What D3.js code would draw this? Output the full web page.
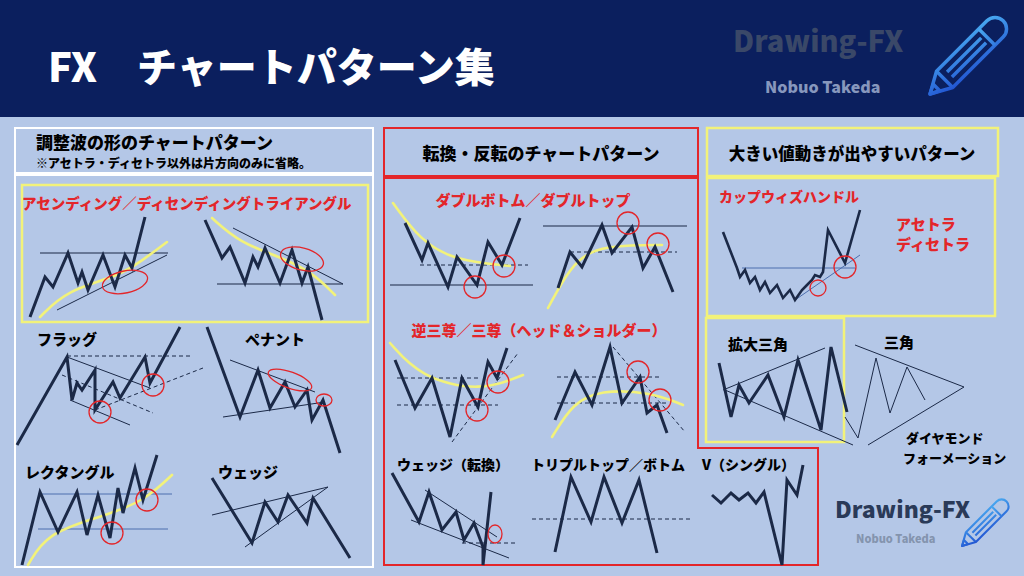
<!DOCTYPE html>
<html><head><meta charset="utf-8">
<script src="https://cdn.jsdelivr.net/npm/d3@7"></script>
<style>body{margin:0;background:#b4c7e7}svg{display:block}text{font-family:"Noto Sans CJK JP","Noto Sans",sans-serif;font-weight:900}</style>
</head><body><svg id="c"></svg>
<script>
var W = 1024, H = 576;

// pattern data, local coords of each panel (x right, y down)
// left panel
var ascZig = [[20,197],[35,157],[43,167],[58,133],[68,163],[72,152],[78,170],[93,135],[105,167],[115,135],[122,148],[135,97]];
var ascRes = [[30,133],[158,133]];
var ascSup = [[47,190],[157,135]];
var ascYel = [[30,197],[57,170],[107,157],[133,140],[157,122]];
var descZig = [[195,100],[212,138],[220,127],[235,163],[243,137],[248,147],[255,128],[270,163],[282,130],[292,163],[298,147],[312,200]];
var descSup = [[207,164],[333,164]];
var descRes = [[223,108],[333,164]];
var descYel = [[202,98],[230,123],[273,138],[303,153],[325,175]];
var flagZig = [[7,325],[57,237],[62,280],[67,263],[72,270],[85,250],[85,290],[103,262],[110,278],[135,237],[140,263],[170,207]];
var flagUp = [[57,237],[140,268]];
var flagLow = [[60,280],[120,305]];
var flagDash = [[[57,236],[183,236]],[[52,255],[143,293]],[[85,290],[193,248]]];
var pennZig = [[197,207],[230,297],[248,250],[260,288],[275,262],[285,287],[297,270],[302,300],[313,280],[330,333]];
var pennUp = [[220,240],[305,272]];
var pennLow = [[213,297],[315,282]];
var rectZig = [[12,445],[30,372],[48,412],[67,372],[77,415],[88,375],[100,418],[108,368],[113,393],[125,348],[133,380],[147,335]];
var rectLines = [[[30,374],[162,374]],[[28,409],[158,409]]];
var rectYel = [[18,445],[37,413],[90,397],[133,382],[162,355]];
var wedgeZig = [[202,358],[242,423],[255,382],[268,402],[278,375],[297,403],[303,378],[340,438]];
var wedgeLines = [[[202,395],[318,367]],[[235,427],[318,367]]];
var leftCircles = [[90,292,11],[143,265,11],[102,413,11],[137,380,11]];
var leftEllipses = [[115,162,23,11,-12],[292,139,22,11,15],[280,260,23,8,20],[314,280,8,6,0]];

// middle panel
var dbZig = [[25,103],[42,140],[48,123],[68,167],[77,137],[97,165],[108,122],[122,145],[140,98]];
var dbSup = [[10,165],[153,165]];
var dbYel = [[13,83],[40,120],[73,140],[130,146]];
var dtZig = [[178,168],[190,132],[202,147],[222,105],[232,133],[252,107],[263,148],[275,127],[293,172]];
var dtRes = [[163,106],[307,106]];
var dtYel = [[168,188],[190,147],[213,128],[253,125],[282,125]];
var ihsZig = [[15,240],[35,288],[52,258],[70,317],[82,258],[98,287],[108,242],[117,258],[127,228]];
var ihsYel = [[10,223],[40,257],[100,272],[143,255]];
var hsZig = [[175,300],[195,252],[212,285],[230,227],[242,283],[260,257],[267,293],[277,285],[287,313]];
var hsYel = [[172,317],[193,283],[220,270],[270,272],[303,285]];
var wrZig = [[12,353],[39,402],[49,372],[62,410],[76,392],[84,420],[94,403],[103,427],[103,445],[111,372]];
var wrLines = [[[45,370],[117,417]],[[31,400],[129,438]]];
var tripleZig = [[175,432],[191,357],[211,402],[224,357],[242,403],[259,360],[277,433]];
var vZig = [[332,375],[341,383],[351,373],[359,380],[368,373],[376,383],[384,372],[402,445],[407,360],[417,375],[423,345]];
var midDash = [[[40,145],[148,145]],[[190,132],[297,132]],[[17,258],[100,258]],[[17,285],[118,285]],[[72,322],[138,233]],
  [[177,257],[280,257]],[[177,283],[287,283]],[[233,227],[305,312]],[[82,423],[136,423]],[[152,399],[310,399]]];
var midCircles = [[95,167,11],[124,146,11],[248,103,11],[278,124,11],[97,290,11],[118,262,11],[258,252,11],[280,280,11]];
var midEllipses = [[115,414,7,9,0]];

// right panel
var cupZig = [[23,112],[37,148],[40,157],[45,150],[50,163],[55,157],[60,170],[65,162],[70,173],[77,165],[83,178],[90,170],[95,180],[102,170],[107,165],[112,160],[115,155],[120,157],[123,152],[128,110],[145,143],[160,90]];
var cupLines = [[[42,148],[155,148]],[[95,180],[160,135]]];
var rightCircles = [[118,168,8],[145,147,11]];
var expZig = [[19,243],[31,297],[39,265],[49,283],[68,255],[84,297],[98,240],[121,310],[131,227],[147,292]];
var expLines = [[[23,270],[125,228]],[[25,270],[153,325]]];
var triZig = [[145,297],[158,318],[176,238],[190,293],[207,247],[225,280]];
var triLines = [[[155,225],[264,267]],[[168,325],[264,267]]];

var NAVY = '#0b1f5e', DARK = '#1b2947', YEL = '#f2f27a', RED = '#e3262a', BLUE = '#4d6fae';

var svg = d3.select('#c').attr('width', W).attr('height', H);
var defs = svg.append('defs');
var grad = defs.append('linearGradient').attr('id', 'pg').attr('x1', 0).attr('y1', 1).attr('x2', 1).attr('y2', 0);
grad.append('stop').attr('offset', 0).attr('stop-color', '#1f4fd0');
grad.append('stop').attr('offset', 1).attr('stop-color', '#48a8f0');

svg.append('rect').attr('width', W).attr('height', H).attr('fill', '#b4c7e7');
svg.append('rect').attr('width', W).attr('height', 117).attr('fill', NAVY);
svg.append('text').attr('x', 48).attr('y', 82).attr('fill', '#fff').attr('font-size', 40).text('FX\u3000チャートパターン集');

function pencil(g, x, y, s) {
    var p = g.append('g').attr('transform', 'translate(' + x + ',' + y + ') scale(' + s + ')');
    p.append('line').attr('x1', -2).attr('y1', 2).attr('x2', 62).attr('y2', 2)
        .attr('stroke', 'url(#pg)').attr('stroke-width', 3);
    var q = p.append('g').attr('transform', 'rotate(-45)')
        .attr('fill', 'none').attr('stroke', 'url(#pg)').attr('stroke-width', 3).attr('stroke-linejoin', 'round');
    q.append('path').attr('d', 'M0,0 L18,-10 L80,-10 A10,10 0 0 1 80,10 L18,10 Z');
    q.append('path').attr('d', 'M18,-10 L18,10 M70,-10 L70,10 M24,-3 L66,-3 M24,3 L66,3 M0,0 L8,-4 L8,4 Z');
}
svg.append('text').attr('x', 733).attr('y', 52).attr('fill', '#3a4868').attr('font-size', 29)
    .attr('font-family', 'Roboto,sans-serif').text('Drawing-FX');
svg.append('text').attr('x', 765).attr('y', 93).attr('fill', '#8797bd').attr('font-size', 16)
    .attr('font-family', 'Roboto,sans-serif').text('Nobuo Takeda');
pencil(svg, 930, 94, 1.15);

// panel boxes
function box(x, y, w, h, c, sw) {
    svg.append('rect').attr('x', x).attr('y', y).attr('width', w).attr('height', h)
        .attr('fill', 'none').attr('stroke', c).attr('stroke-width', sw || 2);
}
box(15, 128, 358, 45, '#fff');
box(15, 175, 358, 392, '#fff');
box(22, 185, 346, 137, YEL, 2.5);
box(384, 128, 314, 48, RED);
svg.append('path').attr('d', 'M384,178 L698,178 L698,448 L818,448 L818,565 L384,565 Z')
    .attr('fill', 'none').attr('stroke', RED).attr('stroke-width', 2);
box(707, 128, 291, 48, YEL, 2.5);
box(707, 178, 288, 138, YEL, 2.5);
box(706, 318, 138, 124, YEL, 2.5);

function txt(x, y, s, size, fill, anchor) {
    svg.append('text').attr('x', x).attr('y', y).attr('font-size', size).attr('fill', fill)
        .attr('text-anchor', anchor || 'start').text(s);
}
txt(36, 149, '調整波の形のチャートパターン', 17, '#000');
txt(36, 168, '※アセトラ・ディセトラ以外は片方向のみに省略。', 12, '#000');
txt(22, 209, 'アセンディング／ディセンディングトライアングル', 14.5, RED);
txt(37, 345, 'フラッグ', 15, '#000');
txt(245, 345, 'ペナント', 15, '#000');
txt(25, 478, 'レクタングル', 15, '#000');
txt(218, 478, 'ウェッジ', 15, '#000');
txt(541, 160, '転換・反転のチャートパターン', 17, '#000', 'middle');
txt(533, 206, 'ダブルボトム／ダブルトップ', 15, RED, 'middle');
txt(539, 336, '逆三尊／三尊（ヘッド＆ショルダー）', 15, RED, 'middle');
txt(397, 470, 'ウェッジ（転換）', 14, '#000');
txt(531, 470, 'トリプルトップ／ボトム', 14, '#000');
txt(702, 470, 'V（シングル）', 14, '#000');
txt(852, 160, '大きい値動きが出やすいパターン', 16.5, '#000', 'middle');
txt(719, 202, 'カップウィズハンドル', 14, RED);
txt(896, 230, 'アセトラ', 15, RED);
txt(896, 250, 'ディセトラ', 15, RED);
txt(728, 350, '拡大三角', 15, '#000');
txt(884, 348, '三角', 15, '#000');
txt(906, 443, 'ダイヤモンド', 13, '#000');
txt(903, 463, 'フォーメーション', 13, '#000');
svg.append('text').attr('x', 835).attr('y', 518).attr('fill', '#2a3a58').attr('font-size', 23)
    .attr('font-family', 'Roboto,sans-serif').text('Drawing-FX');
svg.append('text').attr('x', 856).attr('y', 543).attr('fill', '#8494ae').attr('font-size', 11)
    .attr('font-family', 'Roboto,sans-serif').text('Nobuo Takeda');
pencil(svg, 962, 546, 0.7);

// panels with their own scales
function panel(ox, oy) {
    var x = d3.scaleLinear().domain([0, 100]).range([ox, ox + 100]);
    var y = d3.scaleLinear().domain([0, 100]).range([oy, oy + 100]);
    var line = d3.line().x(function(d) { return x(d[0]); }).y(function(d) { return y(d[1]); });
    var curve = d3.line().curve(d3.curveBasis).x(function(d) { return x(d[0]); }).y(function(d) { return y(d[1]); });
    var g = svg.append('g').attr('fill', 'none');
    return {
        yel: function(pts) { g.append('path').attr('d', curve(pts)).attr('stroke', YEL).attr('stroke-width', 2.6).attr('stroke-linecap', 'round'); },
        thin: function(pts, c, dash, w) {
            g.append('path').attr('d', line(pts)).attr('stroke', c || DARK).attr('stroke-width', w || 1)
                .attr('stroke-dasharray', dash ? '4,3' : null);
        },
        zig: function(pts, w) { g.append('path').attr('d', line(pts)).attr('stroke', DARK).attr('stroke-width', w || 3).attr('stroke-linejoin', 'miter'); },
        circles: function(list) {
            list.forEach(function(d) {
                g.append('circle').attr('cx', x(d[0])).attr('cy', y(d[1])).attr('r', d[2])
                    .attr('stroke', RED).attr('stroke-width', 1.3);
            });
        },
        ellipses: function(list) {
            list.forEach(function(d) {
                g.append('ellipse').attr('cx', x(d[0])).attr('cy', y(d[1])).attr('rx', d[2]).attr('ry', d[3])
                    .attr('transform', 'rotate(' + d[4] + ',' + x(d[0]) + ',' + y(d[1]) + ')')
                    .attr('stroke', RED).attr('stroke-width', 1.3);
            });
        }
    };
}

var L = panel(10, 120);
L.thin(ascRes, DARK, false, 1.2); L.thin(ascSup); L.yel(ascYel); L.zig(ascZig);
L.thin(descSup, DARK, false, 1.2); L.thin(descRes); L.yel(descYel); L.zig(descZig);
flagDash.forEach(function(s) { L.thin(s, DARK, true); });
L.thin(flagUp); L.thin(flagLow); L.zig(flagZig);
L.thin(pennUp); L.thin(pennLow); L.zig(pennZig);
rectLines.forEach(function(s) { L.thin(s, BLUE); });
L.yel(rectYel); L.zig(rectZig);
wedgeLines.forEach(function(s) { L.thin(s); });
L.zig(wedgeZig);
L.circles(leftCircles); L.ellipses(leftEllipses);

var M = panel(380, 120);
midDash.forEach(function(s) { M.thin(s, DARK, true); });
M.thin(dbSup, DARK, false, 1.2); M.thin(dtRes, DARK, false, 1.2);
M.yel(dbYel); M.yel(dtYel); M.yel(ihsYel); M.yel(hsYel);
M.zig(dbZig); M.zig(dtZig); M.zig(ihsZig); M.zig(hsZig);
wrLines.forEach(function(s) { M.thin(s); });
M.zig(wrZig); M.zig(tripleZig); M.zig(vZig);
M.circles(midCircles); M.ellipses(midEllipses);

var R = panel(700, 120);
cupLines.forEach(function(s) { R.thin(s, BLUE); });
R.zig(cupZig, 2.6);
R.circles(rightCircles);
expLines.forEach(function(s) { R.thin(s); });
R.zig(expZig);
triLines.forEach(function(s) { R.thin(s); });
R.zig(triZig, 1);
</script></body></html>
